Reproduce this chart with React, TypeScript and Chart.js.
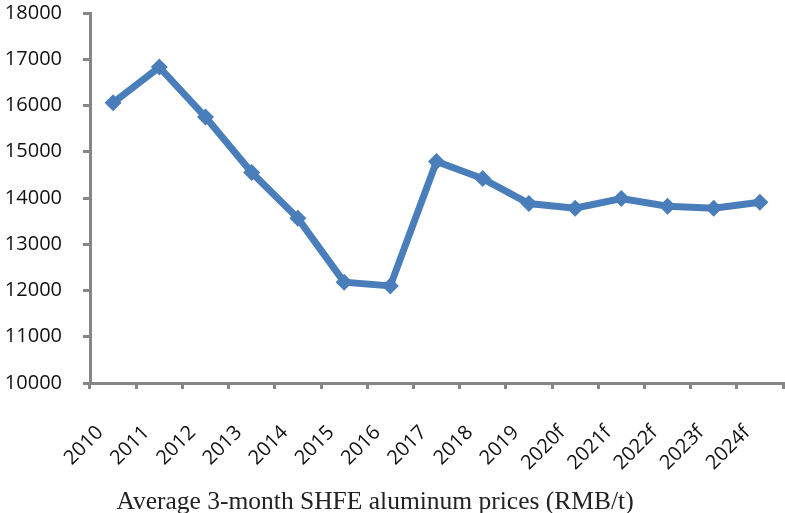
import React, { useEffect, useRef } from "react";
import { Chart, registerables } from "chart.js";

Chart.register(...registerables);

const categories = ["2010", "2011", "2012", "2013", "2014", "2015", "2016", "2017", "2018", "2019", "2020f", "2021f", "2022f", "2023f", "2024f"];
const prices = [16060, 16830, 15750, 14550, 13560, 12180, 12100, 14790, 14420, 13880, 13780, 13990, 13820, 13780, 13910];
const yMin = 10000;
const yMax = 18000;
const yStep = 1000;
const caption = "Average 3-month SHFE aluminum prices (RMB/t)";

const captionPlugin = {
  id: "captionPlugin",
  afterDraw(chart: any) {
    const ctx = chart.ctx;
    ctx.save();
    ctx.font = "25.5px 'Liberation Serif', serif";
    ctx.fillStyle = "#222";
    ctx.textAlign = "center";
    ctx.textBaseline = "middle";
    ctx.fillText(caption, 375, 502);
    ctx.restore();
  },
};

export default function App() {
  const ref = useRef<HTMLCanvasElement | null>(null);
  useEffect(() => {
    if (!ref.current) return;
    const axisColor = "#868686";
    const chart = new Chart(ref.current, {
      type: "line",
      data: {
        labels: categories,
        datasets: [
          {
            data: prices,
            borderColor: "#4A7EBB",
            backgroundColor: "#4A7EBB",
            borderWidth: 7,
            pointStyle: "rectRot",
            pointRadius: 8.5,
            pointHoverRadius: 8.5,
            pointBorderWidth: 0,
            tension: 0,
            clip: false,
          },
        ],
      },
      plugins: [captionPlugin],
      options: {
        animation: false,
        responsive: false,
        maintainAspectRatio: false,
        layout: { autoPadding: false, padding: { left: 0, right: 2, top: 13, bottom: 30 } },
        plugins: {
          legend: { display: false },
          tooltip: { enabled: false },
        },
        scales: {
          x: {
            offset: true,
            afterFit: (s: any) => {
              s.height = 100;
              s.paddingLeft = 0;
              s.paddingRight = 0;
            },
            grid: {
              offset: true,
              drawOnChartArea: false,
              drawTicks: true,
              tickLength: 6,
              color: axisColor,
              lineWidth: 3,
            },
            border: { color: axisColor, width: 3 },
            ticks: {
              minRotation: 45,
              maxRotation: 45,
              autoSkip: false,
              color: "#111",
              font: { family: "'Open Sans', sans-serif", size: 20 },
              padding: 32,
              labelOffset: -13,
            },
          },
          y: {
            min: yMin,
            max: yMax,
            afterFit: (s: any) => {
              s.width = 90;
              s.paddingTop = 0;
              s.paddingBottom = 0;
            },
            grid: {
              drawOnChartArea: false,
              drawTicks: true,
              tickLength: 7,
              color: axisColor,
              lineWidth: 3,
            },
            border: { color: axisColor, width: 3 },
            ticks: {
              stepSize: yStep,
              color: "#111",
              font: { family: "'Open Sans', sans-serif", size: 20 },
              padding: 21,
              callback: (v: any) => String(v),
            },
          },
        },
      },
    });
    return () => chart.destroy();
  }, []);
  return (
    <div style={{ position: "fixed", left: 0, top: 0, width: 785, height: 513, background: "#fff" }}>
      <canvas ref={ref} width={785} height={513} style={{ width: 785, height: 513 }} />
    </div>
  );
}
